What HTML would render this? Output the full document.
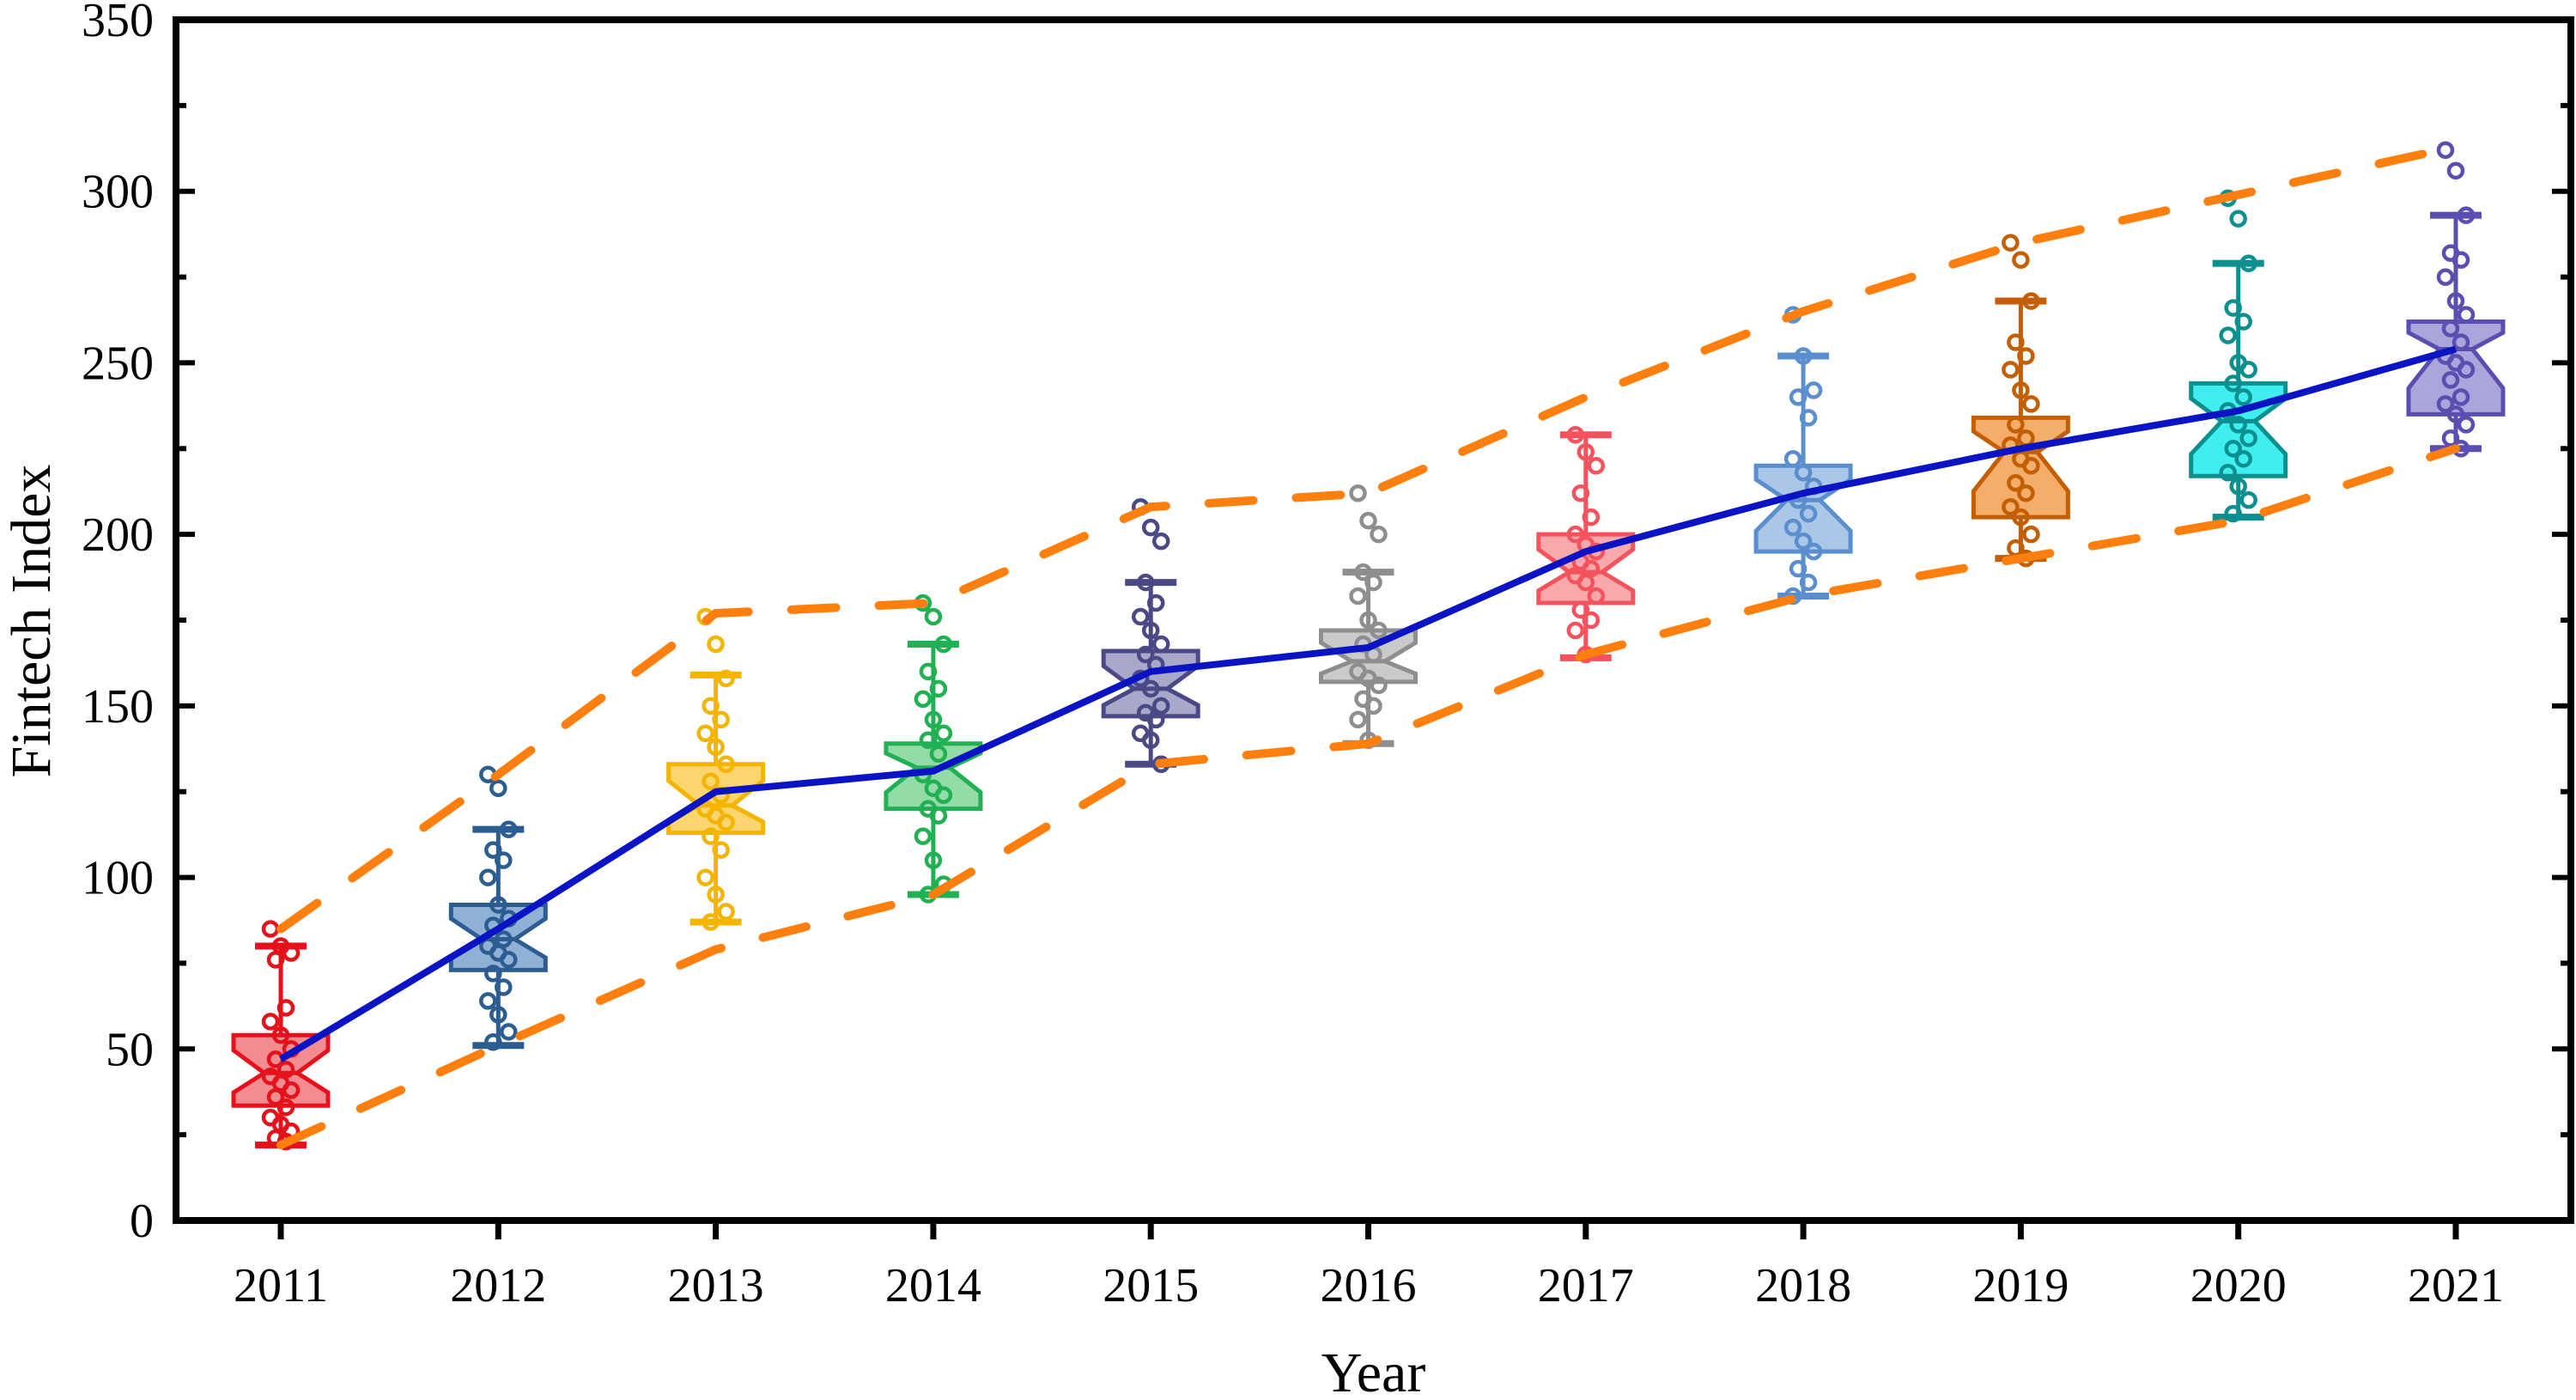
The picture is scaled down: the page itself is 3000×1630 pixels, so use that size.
<!DOCTYPE html>
<html><head><meta charset="utf-8">
<style>html,body{margin:0;padding:0;background:#fff;}svg{display:block;}</style>
</head><body>
<svg id="chart" width="3000" height="1630" viewBox="0 0 3000 1630" xmlns="http://www.w3.org/2000/svg" font-family="'Liberation Serif', serif"></svg>
<script>
const years = [2011,2012,2013,2014,2015,2016,2017,2018,2019,2020,2021];
const whiskerHigh = [80,114,159,168,186,189,229,252,268,279,293];
const q3 = [54,92,133,139,166,172,200,220,234,244,262];
const medians = [43,82,121,132,155,163,189,210,224,233,254];
const q1 = [33.5,73,113,120,147,157,180,195,205,217,235];
const whiskerLow = [22,51,87,95,133,139,164,182,193,205,225];
const means = [47,85,125,131,160,167,195,212,225,236,254];
const upperBand = [85,130,177,180,208,212,240,265,285,299,313];
const lowerBand = [22,51,79,95,133,139,165,182,193,204,225];
const pointSets = [
 [85,80,78,76,62,58,54,50,47,44,42,40,38,36,33,30,28,26,24,23],
 [130,126,114,108,105,100,92,88,86,82,80,78,76,72,68,64,60,55,52],
 [176,168,158,150,146,142,138,133,128,124,120,118,116,112,108,100,95,90,87],
 [180,176,168,160,155,152,146,142,140,136,130,126,124,120,118,112,105,98,95],
 [208,202,198,186,180,176,172,168,165,162,158,155,150,148,146,142,140,133],
 [212,204,200,189,186,182,175,172,168,165,160,158,156,152,150,146,140],
 [229,224,220,212,205,200,197,195,192,190,188,186,182,178,175,172,165],
 [264,252,242,240,234,222,218,214,210,206,202,198,195,190,186,182],
 [285,280,268,256,252,248,242,238,232,228,226,222,220,215,212,208,205,200,196,193],
 [298,292,279,266,262,258,250,248,244,240,236,232,228,225,222,218,214,210,206],
 [312,306,293,282,280,275,268,264,260,256,252,250,248,245,240,238,235,232,228,225]
];
const yTicks = [0,50,100,150,200,250,300,350];
const strokeCols = ['#e5121c','#2c5d92','#f4b400','#1fb152','#4a4885','#8e8e8e','#f4535d','#5a8ecf','#c45e02','#0b8f8f','#5a4fb0'];
const fillCols = ['#f28c90','#90b1d6','#fbd56e','#93dba7','#a8a8cb','#cacaca','#f9a8ab','#aac7e8','#f5ad6b','#40eef0','#aaa5db'];

const svg = document.getElementById('chart');
const NS = 'http://www.w3.org/2000/svg';
const L=205,R=2994,T=23,B=1421;
const x0=327, xStep=253.3;
const X = i => x0 + i*xStep;
const Y = v => B - v*(B-T)/350;
function mk(tag, attrs, parent){const e=document.createElementNS(NS,tag);for(const k in attrs)e.setAttribute(k,attrs[k]);(parent||svg).appendChild(e);return e;}

const ticksG = mk('g',{});


for(let v=0; v<=350; v+=25){
  const major = v%50===0;
  const len = major?22:12;
  mk('line',{x1:L,x2:L+len,y1:Y(v),y2:Y(v),stroke:'#000','stroke-width':6},ticksG);
  mk('line',{x1:R,x2:R-len,y1:Y(v),y2:Y(v),stroke:'#000','stroke-width':6},ticksG);
}
yTicks.forEach(v=>{
  const t=mk('text',{x:L-26,y:Y(v)+19,'text-anchor':'end','font-size':56,fill:'#000'});
  t.textContent=v;
  
  
});
years.forEach((yr,i)=>{
  mk('line',{x1:X(i),x2:X(i),y1:B,y2:B+22,stroke:'#000','stroke-width':7},ticksG);
  const t=mk('text',{x:X(i),y:B+94,'text-anchor':'middle','font-size':56,fill:'#000'});
  t.textContent=yr;
  
  
});

const hw=55, cw=30;
years.forEach((yr,i)=>{
  const g=mk('g',{});
  
  
  const c=X(i), sc=strokeCols[i], fc=fillCols[i];
  mk('line',{x1:c,x2:c,y1:Y(whiskerHigh[i]),y2:Y(whiskerLow[i]),stroke:sc,'stroke-width':5},g);
  mk('line',{x1:c-cw,x2:c+cw,y1:Y(whiskerHigh[i]),y2:Y(whiskerHigh[i]),stroke:sc,'stroke-width':8},g);
  mk('line',{x1:c-cw,x2:c+cw,y1:Y(whiskerLow[i]),y2:Y(whiskerLow[i]),stroke:sc,'stroke-width':8},g);
  const nt=medians[i]+0.6*(q3[i]-medians[i]), nb=medians[i]-0.6*(medians[i]-q1[i]);
  const nw=hw*0.35;
  const pts=[[c-hw,Y(q3[i])],[c+hw,Y(q3[i])],[c+hw,Y(nt)],[c+nw,Y(medians[i])],[c+hw,Y(nb)],[c+hw,Y(q1[i])],[c-hw,Y(q1[i])],[c-hw,Y(nb)],[c-nw,Y(medians[i])],[c-hw,Y(nt)]];
  mk('polygon',{points:pts.map(p=>p.join(',')).join(' '),fill:fc,stroke:sc,'stroke-width':5},g);
  mk('line',{x1:c-nw,x2:c+nw,y1:Y(medians[i]),y2:Y(medians[i]),stroke:sc,'stroke-width':5},g);
  pointSets[i].forEach((v,j)=>{
    const off=((j*37)%5-2)*6;
    const p=mk('circle',{cx:c+off,cy:Y(v),r:8,fill:'none',stroke:sc,'stroke-width':4.5},g);
    
    
  });
});

function pl(arr,attrs,name){
  const p=mk('polyline',Object.assign({points:arr.map((v,i)=>X(i)+','+Y(v)).join(' '),fill:'none'},attrs));
  
  
}
pl(upperBand,{stroke:'#ff7f0e','stroke-width':10,'stroke-dasharray':'52 50','stroke-linecap':'round'},'upper-dashed-line');
pl(lowerBand,{stroke:'#ff7f0e','stroke-width':10,'stroke-dasharray':'52 50','stroke-linecap':'round'},'lower-dashed-line');
pl(means,{stroke:'#0a14c4','stroke-width':8,'stroke-linejoin':'round'},'mean-line');

const fr=mk('rect',{x:L,y:T,width:R-L,height:B-T,fill:'none',stroke:'#000','stroke-width':8});



const xt=mk('text',{x:(L+R)/2,y:1620,'text-anchor':'middle','font-size':66,fill:'#000'});
xt.textContent='Year';


const yt=mk('text',{x:0,y:0,'text-anchor':'middle','font-size':66,fill:'#000',transform:'translate(58,723) rotate(-90)'});
yt.textContent='Fintech Index';


</script>
</body></html>
